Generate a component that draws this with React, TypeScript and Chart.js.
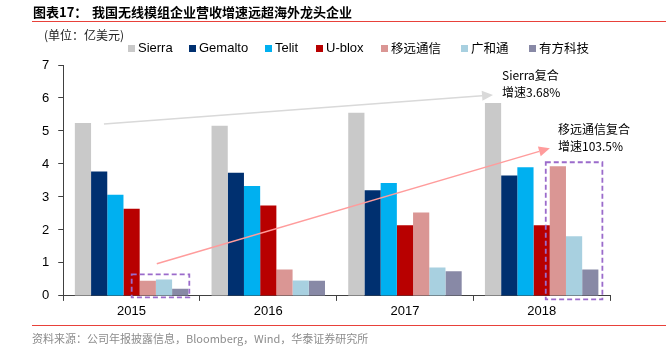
import React, { useEffect, useRef } from "react";
import { Chart, registerables } from "chart.js";

Chart.register(...registerables);

const years = ["2015", "2016", "2017", "2018"];
const seriesNames = ["Sierra", "Gemalto", "Telit", "U-blox", "移远通信", "广和通", "有方科技"];
const sierra = [5.24, 5.16, 5.55, 5.85];
const gemalto = [3.77, 3.73, 3.2, 3.65];
const telit = [3.07, 3.33, 3.42, 3.9];
const ublox = [2.64, 2.74, 2.14, 2.14];
const quectel = [0.46, 0.8, 2.53, 3.93];
const fibocom = [0.5, 0.47, 0.86, 1.81];
const neoway = [0.22, 0.46, 0.75, 0.8];
const seriesColors = ["#C9C9C9", "#003070", "#00B0F0", "#B80000", "#DA9694", "#A8D0E0", "#8889A6"];
const yMin = 0;
const yMax = 7;
const yStep = 1;

const titleText = "图表17：";
const titleMain = "我国无线模组企业营收增速远超海外龙头企业";
const unitText = "(单位：亿美元)";
const sourceText = "资料来源：公司年报披露信息，Bloomberg，Wind，华泰证券研究所";
const noteSierra = ["Sierra复合", "增速3.68%"];
const noteQuectel = ["移远通信复合", "增速103.5%"];

const legendX = [128, 189, 265, 316, 381, 461, 529];

function drawArrow(ctx: CanvasRenderingContext2D, x1: number, y1: number, x2: number, y2: number, color: string) {
  const ang = Math.atan2(y2 - y1, x2 - x1);
  const head = 11;
  const hw = 5;
  const bx = x2 - head * Math.cos(ang);
  const by = y2 - head * Math.sin(ang);
  ctx.save();
  ctx.strokeStyle = color;
  ctx.fillStyle = color;
  ctx.lineWidth = 1.5;
  ctx.beginPath();
  ctx.moveTo(x1, y1);
  ctx.lineTo(bx, by);
  ctx.stroke();
  ctx.beginPath();
  ctx.moveTo(x2, y2);
  ctx.lineTo(bx + hw * Math.sin(ang), by - hw * Math.cos(ang));
  ctx.lineTo(bx - hw * Math.sin(ang), by + hw * Math.cos(ang));
  ctx.closePath();
  ctx.fill();
  ctx.restore();
}

const annotationPlugin = {
  id: "annot",
  afterDatasetsDraw(chart: any) {
    const ctx: CanvasRenderingContext2D = chart.ctx;
    const bar = (ds: number, i: number) => chart.getDatasetMeta(ds).data[i] as any;
    const s0 = bar(0, 0);
    const s3 = bar(0, 3);
    drawArrow(ctx, s0.x + 21, s0.y + 1, s3.x, s3.y - 8, "#D9D9D9");
    const q0 = bar(4, 0);
    const q3 = bar(4, 3);
    drawArrow(ctx, q0.x + 9, q0.y - 17, q3.x - 8, q3.y - 18, "#FF9C9C");
    ctx.save();
    ctx.strokeStyle = "#9B6BCB";
    ctx.lineWidth = 1.8;
    ctx.setLineDash([5, 3]);
    const boxes = [
      { i: 0, padL: 8, padR: 1, padT: 5, padB: 2 },
      { i: 3, padL: 4, padR: 4, padT: 4, padB: 4 },
    ];
    boxes.forEach((b) => {
      const a = bar(4, b.i);
      const c = bar(6, b.i);
      let top = Infinity;
      for (let d = 4; d <= 6; d++) top = Math.min(top, bar(d, b.i).y);
      const left = a.x - a.width / 2 - b.padL;
      const right = c.x + c.width / 2 + b.padR;
      ctx.strokeRect(left, top - b.padT, right - left, a.base + b.padB - (top - b.padT));
    });
    ctx.restore();
  },
};

export default function App() {
  const ref = useRef<HTMLCanvasElement>(null);
  useEffect(() => {
    const all = [sierra, gemalto, telit, ublox, quectel, fibocom, neoway];
    const chart = new Chart(ref.current!, {
      type: "bar",
      data: {
        labels: years,
        datasets: all.map((d, k) => ({
          label: seriesNames[k],
          data: d,
          backgroundColor: seriesColors[k],
          borderWidth: 0,
          categoryPercentage: 0.83,
          barPercentage: 1,
        })),
      },
      options: {
        animation: false,
        responsive: true,
        maintainAspectRatio: false,
        layout: { padding: { left: 33, right: 60, top: 65, bottom: 30.5 } },
        plugins: { legend: { display: false }, tooltip: { enabled: false } },
        scales: {
          x: {
            grid: { display: true, drawOnChartArea: false, tickLength: 5, tickColor: "#404040", offset: true },
            border: { color: "#404040", width: 1 },
            ticks: { color: "#000", font: { family: "Liberation Sans, Arial", size: 13 }, padding: 3 },
          },
          y: {
            min: yMin,
            max: yMax,
            grid: { display: true, drawOnChartArea: false, tickLength: 5, tickColor: "#404040" },
            border: { color: "#404040", width: 1 },
            ticks: { stepSize: yStep, color: "#000", font: { family: "Liberation Sans, Arial", size: 13 }, padding: 9 },
          },
        },
      },
      plugins: [annotationPlugin],
    });
    return () => chart.destroy();
  }, []);

  const cjk = "'Noto Sans CJK SC', 'Liberation Sans', sans-serif";
  const abs = (x: number, y: number, extra: React.CSSProperties = {}): React.CSSProperties => ({
    position: "absolute",
    left: x,
    top: y,
    whiteSpace: "nowrap",
    lineHeight: "16px",
    ...extra,
  });

  return (
    <div style={{ position: "fixed", left: 0, top: 0, width: 670, height: 353, background: "#fff", overflow: "hidden", fontFamily: cjk }}>
      <canvas ref={ref} width={670} height={353} style={{ position: "absolute", left: 0, top: 0 }} />
      <div style={abs(33, 4, { fontSize: 13, fontWeight: 700, color: "#000" })}>{titleText}</div>
      <div style={abs(92, 4, { fontSize: 13, fontWeight: 700, color: "#000" })}>{titleMain}</div>
      <div style={{ position: "absolute", left: 32, top: 21, width: 634, height: 1, background: "#E8413A" }} />
      <div style={abs(44, 27, { fontSize: 12, color: "#222" })}>{unitText}</div>
      {seriesNames.map((n, k) => (
        <div key={n} style={abs(legendX[k], 40, { display: "flex", alignItems: "center", fontSize: 13 })}>
          <span style={{ display: "inline-block", width: 7, height: 7, background: seriesColors[k], marginRight: 3 }} />
          <span style={{ fontFamily: k < 4 ? "'Liberation Sans', Arial, sans-serif" : cjk, fontSize: k < 4 ? 13 : 12.5, color: "#000" }}>{n}</span>
        </div>
      ))}
      <div style={abs(502, 67, { fontSize: 12, color: "#000" })}>{noteSierra[0]}</div>
      <div style={abs(502, 84, { fontSize: 12, color: "#000" })}>{noteSierra[1]}</div>
      <div style={abs(558, 121, { fontSize: 12, color: "#000" })}>{noteQuectel[0]}</div>
      <div style={abs(558, 138, { fontSize: 12, color: "#000" })}>{noteQuectel[1]}</div>
      <div style={{ position: "absolute", left: 32, top: 325, width: 634, height: 1, background: "#E8413A" }} />
      <div style={abs(32, 330, { fontSize: 11, color: "#8C8C8C" })}>{sourceText}</div>
    </div>
  );
}
